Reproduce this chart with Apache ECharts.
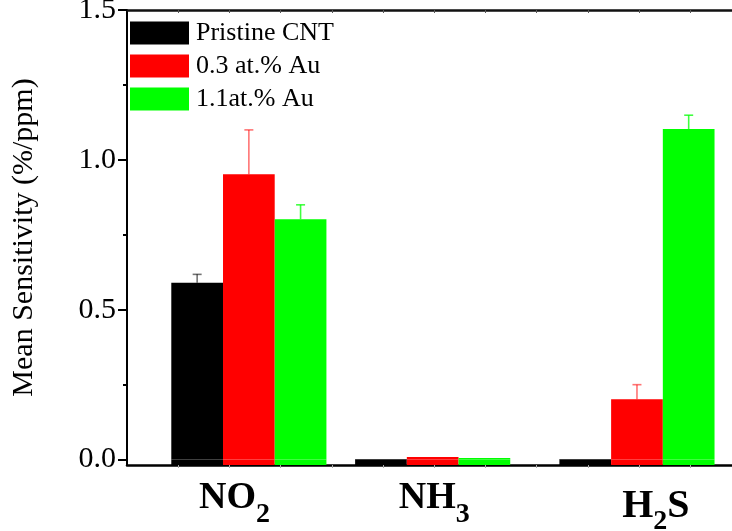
<!DOCTYPE html>
<html>
<head>
<meta charset="utf-8">
<script src="https://cdn.jsdelivr.net/npm/echarts@6/dist/echarts.min.js"></script>
<style>html,body{margin:0;padding:0;background:#fff;}#c{width:732px;height:531px;}</style>
</head>
<body>
<div id="c"></div>
<script>
// ---- data ----
const categories = ['NO2', 'NH3', 'H2S'];
const seriesNames = ['Pristine CNT', '0.3 at.% Au', '1.1at.% Au'];
const groupX = [2.38, 5.97, 9.96];        // group centre on the value x axis
const seriesOffset = [-1.01, 0, 1.01];    // offset of each series inside a group
const pristine = [0.590, 0.002, 0.002];
const au03 = [0.952, 0.009, 0.201];
const au11 = [0.802, 0.005, 1.103];
const errPristine = [0.028, 0, 0];
const errAu03 = [0.148, 0, 0.049];
const errAu11 = [0.048, 0, 0.046];
const yTicks = [0, 0.5, 1.0, 1.5];
const yMinorTicks = [0.25, 0.75, 1.25];
const xTicks = [1, 2, 3, 4, 5, 6, 7, 8, 9, 10, 11];
const labelX = [2.1, 6.0, 10.33];
const Y_MIN = -0.018, Y_MAX = 1.5, X_MAX = 11.9;

const colors = ['#000000', '#ff0000', '#00ff00'];
const errColors = ['rgba(0,0,0,0.55)', 'rgba(255,0,0,0.55)', 'rgba(0,255,0,0.75)'];
const values = [pristine, au03, au11];
const errs = [errPristine, errAu03, errAu11];
const FONT = '"Liberation Serif", "Times New Roman", serif';

const chart = echarts.init(document.getElementById('c'), null, {renderer: 'canvas'});

const series = [];
values.forEach((vals, si) => {
  series.push({
    name: seriesNames[si],
    type: 'bar',
    xAxisIndex: 0, yAxisIndex: 0,
    barWidth: 51.7,
    barGap: '-100%',
    itemStyle: {color: colors[si]},
    emphasis: {disabled: true},
    data: vals.map((v, gi) => [groupX[gi] + seriesOffset[si], v])
  });
});
// extend each bar down to the axis line (axis sits slightly below zero)
values.forEach((vals, si) => {
  series.push({
    name: 'base' + si,
    type: 'bar',
    xAxisIndex: 0, yAxisIndex: 0,
    barWidth: 51.7,
    barGap: '-100%',
    itemStyle: {color: colors[si]},
    emphasis: {disabled: true},
    data: vals.map((v, gi) => [groupX[gi] + seriesOffset[si], Y_MIN])
  });
});
values.forEach((vals, si) => {
  const data = [];
  vals.forEach((v, gi) => { if (errs[si][gi] > 0) data.push([groupX[gi] + seriesOffset[si], v, errs[si][gi]]); });
  series.push({
    name: 'err' + si,
    type: 'custom',
    xAxisIndex: 0, yAxisIndex: 0,
    z: 5,
    data: data,
    renderItem: function (params, api) {
      const x = api.value(0), y = api.value(1), e = api.value(2);
      const p0 = api.coord([x, y]);
      const p1 = api.coord([x, y + e]);
      const style = {stroke: errColors[si], lineWidth: 1.6};
      return {
        type: 'group',
        children: [
          {type: 'line', shape: {x1: p0[0], y1: p0[1], x2: p1[0], y2: p1[1]}, style: style},
          {type: 'line', shape: {x1: p1[0] - 4.5, y1: p1[1], x2: p1[0] + 4.5, y2: p1[1]}, style: style}
        ]
      };
    }
  });
});

function xLabel(v) {
  let idx = -1;
  labelX.forEach((p, i) => { if (Math.abs(p - v) < 1e-6) idx = i; });
  if (idx < 0) return '';
  const c = categories[idx];
  if (c === 'NO2') return '{a|NO}{s|2}';
  if (c === 'NH3') return '{a|NH}{s|3}';
  if (c === 'H2S') return '{A|H}{S|2}{A|S}';
  return c;
}

chart.setOption({
  animation: false,
  backgroundColor: '#ffffff',
  grid: {left: 127, right: -4.3, top: 10, bottom: 66, containLabel: false, outerBoundsMode: 'none'},
  legend: {
    data: seriesNames,
    orient: 'vertical',
    left: 130, top: 20, padding: 0,
    itemWidth: 59, itemHeight: 23, itemGap: 7,
    icon: 'rect',
    selectedMode: false,
    textStyle: {fontFamily: FONT, fontSize: 26, color: '#000', padding: [0, 0, 0, 2]}
  },
  xAxis: [
    {
      type: 'value', position: 'bottom', min: 0, max: X_MAX,
      splitLine: {show: false},
      axisLine: {show: true, onZero: false, lineStyle: {color: '#000', width: 2.5}},
      axisTick: {show: true, customValues: xTicks, length: 3, lineStyle: {color: '#aaa', width: 1}},
      axisLabel: {
        show: true, customValues: labelX, margin: 14,
        formatter: xLabel,
        rich: {
          a: {fontFamily: FONT, fontSize: 38, fontWeight: 'bold', color: '#000', verticalAlign: 'top', lineHeight: 38},
          s: {fontFamily: FONT, fontSize: 28, fontWeight: 'bold', color: '#000', verticalAlign: 'top', lineHeight: 28, padding: [22, 0, 0, 0]},
          A: {fontFamily: FONT, fontSize: 40, fontWeight: 'bold', color: '#000', verticalAlign: 'top', lineHeight: 40, padding: [8, 0, 0, 0]},
          S: {fontFamily: FONT, fontSize: 28, fontWeight: 'bold', color: '#000', verticalAlign: 'top', lineHeight: 28, padding: [29, 0, 0, 0]}
        }
      }
    },
    {
      type: 'value', position: 'top', min: 0, max: X_MAX,
      splitLine: {show: false},
      axisLine: {show: true, onZero: false, lineStyle: {color: '#111', width: 2.5}},
      axisTick: {show: true, inside: true, customValues: xTicks, length: 3, lineStyle: {color: '#555', width: 1}},
      axisLabel: {show: false}
    }
  ],
  yAxis: [
    {
      type: 'value', position: 'left', min: Y_MIN, max: Y_MAX,
      name: 'Mean Sensitivity (%/ppm)',
      nameLocation: 'middle', nameGap: 88,
      nameTextStyle: {fontFamily: FONT, fontSize: 30, color: '#000'},
      splitLine: {show: false},
      axisLine: {show: true, onZero: false, lineStyle: {color: '#000', width: 2}},
      axisTick: {show: true, customValues: yTicks, length: 9, lineStyle: {color: '#000', width: 2}},
      axisLabel: {show: true, customValues: yTicks, margin: 11, fontFamily: FONT, fontSize: 30, color: '#000',
        formatter: v => v.toFixed(1)}
    },
    {
      type: 'value', position: 'left', min: Y_MIN, max: Y_MAX,
      splitLine: {show: false},
      axisLine: {show: false},
      axisTick: {show: true, customValues: yMinorTicks, length: 4, lineStyle: {color: '#000', width: 2}},
      axisLabel: {show: false}
    }
  ],
  series: series
});
</script>
</body>
</html>
